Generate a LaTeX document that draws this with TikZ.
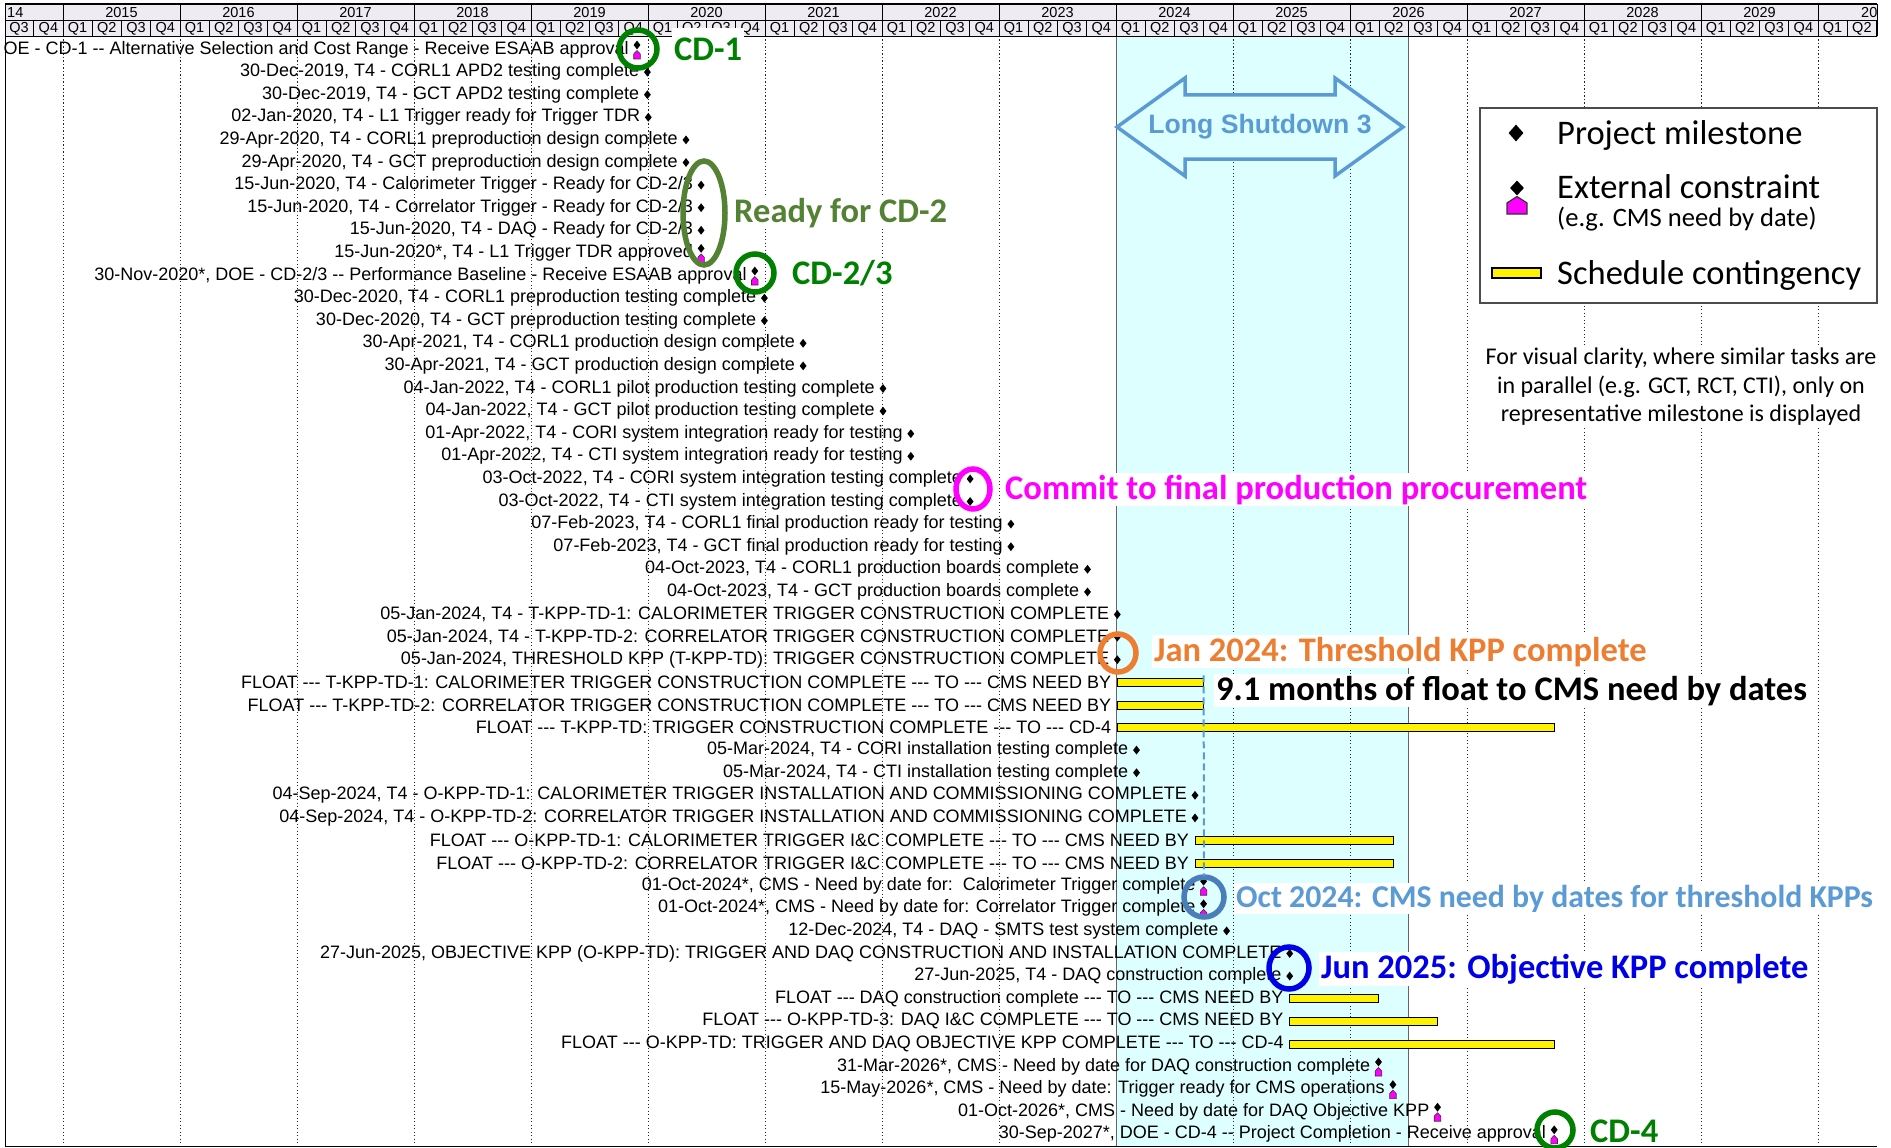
\documentclass[tikz,border=0pt]{standalone}
\usepackage{fontspec}
\setmainfont{Liberation Sans}
\newfontfamily\calfont{Carlito}
\usetikzlibrary{shapes.geometric,calc}

\definecolor{lscyan}{RGB}{221,255,255}
\definecolor{hdrfill}{RGB}{238,236,242}
\definecolor{cdgreen}{RGB}{0,128,0}
\definecolor{readygreen}{RGB}{84,130,53}
\definecolor{commitmag}{RGB}{255,0,255}
\definecolor{kpporange}{RGB}{237,125,49}
\definecolor{lsblue}{RGB}{91,155,213}
\definecolor{cmsring}{RGB}{74,126,187}
\definecolor{objblue}{RGB}{0,0,230}
\definecolor{extmag}{RGB}{255,0,255}

% one row = 22.6 units, first row centred at 49.5
\newcommand\msrow[3]{%
  \node[msmark] (m#1) at ({#2},{49.5+22.6*(#1-1)}) {};
  \node[rowlbl] (t#1) at ({#2-8},{49.5+22.6*(#1-1)}) {#3};}
\newcommand\ecrow[3]{%
  \node[msmark] (m#1) at ({#2},{49.5+22.6*(#1-1)-4.5}) {};
  \filldraw[hse] ({#2-3.3},{49.5+22.6*(#1-1)+9.5}) -- ++(6.6,0) -- ++(0,-5) -- ++(-3.3,-3.5) -- ++(-3.3,3.5) -- cycle;
  \node[rowlbl] (t#1) at ({#2-8},{49.5+22.6*(#1-1)}) {#3};}
\newcommand\barrow[4]{%
  \draw[floatbar] ({#2},{49.5+22.6*(#1-1)-4}) rectangle ({#3},{49.5+22.6*(#1-1)+4});
  \coordinate (b#1) at ({#3},{49.5+22.6*(#1-1)});
  \node[rowlbl] (t#1) at ({#2-6},{49.5+22.6*(#1-1)}) {#4};}

\begin{document}
\begin{tikzpicture}[x=1pt,y=-1pt,
  rowlbl/.style={anchor=east, inner sep=0pt, font=\fontsize{18}{20}\selectfont},
  hdr/.style={inner sep=0pt, font=\fontsize{14.5}{16}\selectfont},
  msmark/.style={diamond, fill=black, draw=none, inner sep=0pt, minimum width=7pt, minimum height=9pt},
  hse/.style={fill=extmag, draw=black!80, line width=0.6pt},
  floatbar/.style={fill=yellow, draw=black, line width=0.8pt},
  gridline/.style={black!85, line width=0.9pt, dash pattern=on 1.3pt off 2.2pt},
  callout/.style={anchor=base west, fill=white, inner sep=2pt, font=\calfont\bfseries\fontsize{34.5}{36}\selectfont},
  lgtext/.style={anchor=base west, inner sep=0pt, font=\calfont\fontsize{34.5}{36}\selectfont},
  ring/.style={line width=5.5pt},
]
\useasboundingbox (0,0) rectangle (1891,1148);
\fill[white] (0,0) rectangle (1891,1148);

% Long Shutdown 3 band
\fill[lscyan] (1116,36) rectangle (1408.5,1146);

% yearly dotted grid
\foreach \k in {0,...,15}{
  \draw[gridline] ({63+117*\k},36) -- ({63+117*\k},1146);
}
\draw[black!60, line width=1pt] (1116,36) -- (1116,1146);
\draw[black!60, line width=1pt] (1408.5,36) -- (1408.5,1146);

% timescale header
\begin{scope}
  \clip (5,2) rectangle (1877,37);
  \fill[hdrfill] (5,4) rectangle (1877,36);
  \foreach \yr in {2014,...,2030}{%
    \pgfmathsetmacro\xs{648+(\yr-2020)*117}
    \draw[line width=0.8pt] (\xs,4) rectangle ++(117,16.5);
    \foreach \q in {1,...,4}{%
      \draw[line width=0.8pt] ({\xs+(\q-1)*29.25},20.5) rectangle ++(29.25,15.5);
    }
  }
\end{scope}
\foreach \yr in {2015,...,2029}{%
  \pgfmathsetmacro\xs{648+(\yr-2020)*117}
  \node[hdr] (y\yr) at (\xs+58.5,12.5) {\yr};
  \foreach \q in {1,...,4}{%
    \node[hdr] (q\yr\q) at ({\xs+(\q-0.5)*29.25},28.5) {Q\q};
  }
}
\node[hdr, anchor=west] (y2014) at (7,12.5) {14};
\node[hdr] (q20143) at (19.1,28.5) {Q3};
\node[hdr] (q20144) at (48.4,28.5) {Q4};
\node[hdr, anchor=west] (y2030) at (1861,12.5) {20};
\node[hdr] (q20301) at (1832.6,28.5) {Q1};
\node[hdr] (q20302) at (1861.9,28.5) {Q2};
\draw[line width=2pt] (5,4) -- (1877,4);
\draw[line width=1pt] (1877,4) -- (1877,36);
\draw[line width=1.2pt] (5.5,4) -- (5.5,1147);
\draw[line width=1.2pt] (5,1146.5) -- (1877,1146.5);

% shutdown arrow
\filldraw[draw=lsblue, fill=lscyan, line width=3.5pt] (1117,127) -- (1185,78) -- (1185,95) -- (1335,95) -- (1335,78) -- (1403,127) -- (1335,176) -- (1335,159) -- (1185,159) -- (1185,176) -- cycle;
\node[font=\bfseries\fontsize{26.6}{28}\selectfont, text=lsblue] (ls3) at (1260,127) {Long Shutdown 3};

% legend
\node[draw=black!70, line width=1.5pt, fill=white, minimum width=397pt, minimum height=195pt, anchor=north west, inner sep=0pt] (legend) at (1479,107) {};
\node[msmark, minimum width=15pt, minimum height=17pt] (lgms) at (1516,133) {};
\node[lgtext] (lgt1) at (1557,144) {Project milestone};
\node[msmark, minimum width=14pt, minimum height=15pt] (lgec) at (1517,188) {};
\filldraw[hse, line width=1.2pt] (1507,214) -- (1527,214) -- (1527,203) -- (1517,196.5) -- (1507,203) -- cycle;
\node[lgtext] (lgt2) at (1557,198) {External constraint};
\node[lgtext, font=\calfont\fontsize{26.6}{28}\selectfont] (lgt3) at (1557,226) {(e.g. CMS need by date)};
\draw[floatbar, line width=1.2pt] (1492,268) rectangle (1541,278);
\node[lgtext] (lgt4) at (1557,284) {Schedule contingency};

\node[fill=white, inner sep=2pt, align=center, font=\calfont\fontsize{24}{28.5}\selectfont] (note) at (1681,387) {For visual clarity, where similar tasks are\\ in parallel (e.g. GCT, RCT, CTI), only on\\ representative milestone is displayed};

% schedule rows
\ecrow{1}{637}{OE - CD-1 -{}- Alternative Selection and Cost Range - Receive ESAAB approval}
\msrow{2}{647.4}{30-Dec-2019, T4 - CORL1 APD2 testing complete}
\msrow{3}{647.4}{30-Dec-2019, T4 - GCT APD2 testing complete}
\msrow{4}{648.3}{02-Jan-2020, T4 - L1 Trigger ready for Trigger TDR}
\msrow{5}{686}{29-Apr-2020, T4 - CORL1 preproduction design complete}
\msrow{6}{686}{29-Apr-2020, T4 - GCT preproduction design complete}
\msrow{7}{701.1}{15-Jun-2020, T4 - Calorimeter Trigger - Ready for CD-2/3}
\msrow{8}{701.1}{15-Jun-2020, T4 - Correlator Trigger - Ready for CD-2/3}
\msrow{9}{701.1}{15-Jun-2020, T4 - DAQ - Ready for CD-2/3}
\ecrow{10}{701.1}{15-Jun-2020*, T4 - L1 Trigger TDR approved}
\ecrow{11}{754.8}{30-Nov-2020*, DOE - CD-2/3 -{}- Performance Baseline - Receive ESAAB approval}
\msrow{12}{764.4}{30-Dec-2020, T4 - CORL1 preproduction testing complete}
\msrow{13}{764.4}{30-Dec-2020, T4 - GCT preproduction testing complete}
\msrow{14}{803.1}{30-Apr-2021, T4 - CORL1 production design complete}
\msrow{15}{803.1}{30-Apr-2021, T4 - GCT production design complete}
\msrow{16}{883}{04-Jan-2022, T4 - CORL1 pilot production testing complete}
\msrow{17}{883}{04-Jan-2022, T4 - GCT pilot production testing complete}
\msrow{18}{910.8}{01-Apr-2022, T4 - CORI system integration ready for testing}
\msrow{19}{910.8}{01-Apr-2022, T4 - CTI system integration ready for testing}
\msrow{20}{970.1}{03-Oct-2022, T4 - CORI system integration testing complete}
\msrow{21}{970.1}{03-Oct-2022, T4 - CTI system integration testing complete}
\msrow{22}{1010.9}{07-Feb-2023, T4 - CORL1 final production ready for testing}
\msrow{23}{1010.9}{07-Feb-2023, T4 - GCT final production ready for testing}
\msrow{24}{1087.5}{04-Oct-2023, T4 - CORL1 production boards complete}
\msrow{25}{1087.5}{04-Oct-2023, T4 - GCT production boards complete}
\msrow{26}{1117.3}{05-Jan-2024, T4 - T-KPP-TD-1: CALORIMETER TRIGGER CONSTRUCTION COMPLETE}
\msrow{27}{1117.3}{05-Jan-2024, T4 - T-KPP-TD-2: CORRELATOR TRIGGER CONSTRUCTION COMPLETE}
\msrow{28}{1117.3}{05-Jan-2024, THRESHOLD KPP (T-KPP-TD): TRIGGER CONSTRUCTION COMPLETE}
\barrow{29}{1117.3}{1203.6}{FLOAT -{}-{}- T-KPP-TD-1: CALORIMETER TRIGGER CONSTRUCTION COMPLETE -{}-{}- TO -{}-{}- CMS NEED BY}
\barrow{30}{1117.3}{1203.6}{FLOAT -{}-{}- T-KPP-TD-2: CORRELATOR TRIGGER CONSTRUCTION COMPLETE -{}-{}- TO -{}-{}- CMS NEED BY}
\barrow{31}{1117.3}{1554.2}{FLOAT -{}-{}- T-KPP-TD: TRIGGER CONSTRUCTION COMPLETE -{}-{}- TO -{}-{}- CD-4}
\msrow{32}{1136.5}{05-Mar-2024, T4 - CORI installation testing complete}
\msrow{33}{1136.5}{05-Mar-2024, T4 - CTI installation testing complete}
\msrow{34}{1195}{04-Sep-2024, T4 - O-KPP-TD-1: CALORIMETER TRIGGER INSTALLATION AND COMMISSIONING COMPLETE}
\msrow{35}{1195}{04-Sep-2024, T4 - O-KPP-TD-2: CORRELATOR TRIGGER INSTALLATION AND COMMISSIONING COMPLETE}
\barrow{36}{1195}{1392.9}{FLOAT -{}-{}- O-KPP-TD-1: CALORIMETER TRIGGER I\&C COMPLETE -{}-{}- TO -{}-{}- CMS NEED BY}
\barrow{37}{1195}{1392.9}{FLOAT -{}-{}- O-KPP-TD-2: CORRELATOR TRIGGER I\&C COMPLETE -{}-{}- TO -{}-{}- CMS NEED BY}
\ecrow{38}{1203.6}{01-Oct-2024*, CMS - Need by date for:\ \ Calorimeter Trigger complete}
\ecrow{39}{1203.6}{01-Oct-2024*, CMS - Need by date for: Correlator Trigger complete}
\msrow{40}{1226.6}{12-Dec-2024, T4 - DAQ - SMTS test system complete}
\msrow{41}{1289.7}{27-Jun-2025, OBJECTIVE KPP (O-KPP-TD): TRIGGER AND DAQ CONSTRUCTION AND INSTALLATION COMPLETE}
\msrow{42}{1289.7}{27-Jun-2025, T4 - DAQ construction complete}
\barrow{43}{1289.7}{1378.5}{FLOAT -{}-{}- DAQ construction complete -{}-{}- TO -{}-{}- CMS NEED BY}
\barrow{44}{1289.7}{1437.5}{FLOAT -{}-{}- O-KPP-TD-3: DAQ I\&C COMPLETE -{}-{}- TO -{}-{}- CMS NEED BY}
\barrow{45}{1289.7}{1554.2}{FLOAT -{}-{}- O-KPP-TD: TRIGGER AND DAQ OBJECTIVE KPP COMPLETE -{}-{}- TO -{}-{}- CD-4}
\ecrow{46}{1378.5}{31-Mar-2026*, CMS - Need by date for DAQ construction complete}
\ecrow{47}{1392.9}{15-May-2026*, CMS - Need by date: Trigger ready for CMS operations}
\ecrow{48}{1437.5}{01-Oct-2026*, CMS - Need by date for DAQ Objective KPP}
\ecrow{49}{1554.2}{30-Sep-2027*, DOE - CD-4 -{}- Project Completion - Receive approval}

% callouts
\node[callout, text=cdgreen, text height=30pt] (lcd1) at (672,60) {CD-1};
\node[callout, text=readygreen] (lready) at (732,222) {Ready for CD-2};
\node[callout, text=cdgreen] (lcd23) at (790,284) {CD-2/3};
\node[callout, text=commitmag] (lcommit) at (1003,499) {Commit to final production procurement};
\node[callout, text=kpporange] (ljan) at (1152,661) {Jan 2024: Threshold KPP complete};
\node[callout, text=black] (lfloat) at (1214,700) {9.1 months of float to CMS need by dates};
\node[callout, text=lsblue, font=\calfont\bfseries\fontsize{31.8}{34}\selectfont] (loct) at (1234,907) {Oct 2024: CMS need by dates for threshold KPPs};
\node[callout, text=objblue] (ljun) at (1319,978) {Jun 2025: Objective KPP complete};
\node[callout, text=cdgreen] (lcd4) at (1588,1142) {CD-4};

\draw[ring, cdgreen] (638,49) ellipse[x radius=19, y radius=19];
\draw[ring, readygreen] (704,213) ellipse[x radius=21, y radius=52];
\draw[ring, cdgreen] (755,273) ellipse[x radius=19, y radius=19];
\draw[ring, commitmag] (973,489) ellipse[x radius=17, y radius=20];
\draw[ring, kpporange] (1118,653) ellipse[x radius=18, y radius=19];
\coordinate (octc) at (1204,897);
\draw[ring, cmsring] (octc) ellipse[x radius=20, y radius=20];
\draw[ring, objblue] (1289,968) ellipse[x radius=20, y radius=21];
\draw[ring, cdgreen] (1555,1130) ellipse[x radius=18, y radius=18];

\draw[lsblue, line width=2pt, dash pattern=on 7pt off 4pt] ($(b29)+(0,-7)$) -- ($(octc)+(0,-21)$);
\end{tikzpicture}
\end{document}
